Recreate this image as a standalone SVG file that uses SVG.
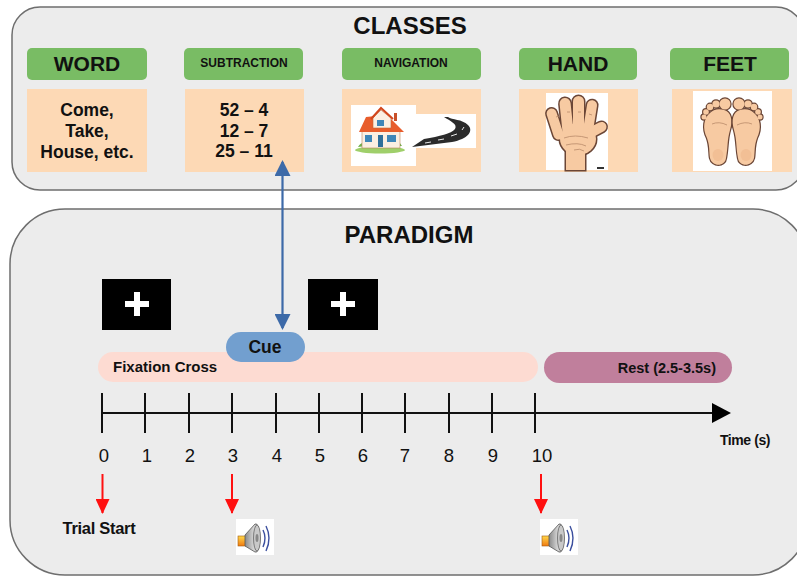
<svg xmlns="http://www.w3.org/2000/svg" width="797" height="577" viewBox="0 0 797 577">
  <style>
    text { font-family: "Liberation Sans", Arial, sans-serif; fill: #111; }
    .title { font-size: 24px; font-weight: bold; text-anchor: middle; }
    .hdr { fill: #79bc64; }
    .hdrt { font-size: 21px; font-weight: bold; text-anchor: middle; }
    .hdrs { font-size: 12px; font-weight: bold; text-anchor: middle; }
    .card { fill: #fdd9b5; }
    .cardt { font-size: 17.5px; font-weight: bold; text-anchor: middle; }
    .panel { fill: #ececec; stroke: #6e6e6e; stroke-width: 1.5; }
    .tick { stroke: #111; stroke-width: 2; }
    .num { font-size: 18.5px; text-anchor: middle; }
    .bar { font-size: 15px; font-weight: bold; }
    .skin { fill: #f7caa2; }
    .skinline { fill: #6b4636; stroke: #6b4636; stroke-width: 3; }
    .crease { fill: none; stroke: #b98a6a; stroke-width: 0.8; }
    .red { stroke: #ff1010; stroke-width: 2; }
  </style>
  <defs>
    <marker id="blueHead" viewBox="0 0 16 16" refX="14" refY="8" markerWidth="16" markerHeight="16" markerUnits="userSpaceOnUse" orient="auto-start-reverse">
      <path d="M0,0 L16,8 L0,16 Z" fill="#3d6aa8"/>
    </marker>
    <marker id="redHead" viewBox="0 0 15 14" refX="14" refY="7" markerWidth="15" markerHeight="14" markerUnits="userSpaceOnUse" orient="auto">
      <path d="M0,0 L15,7 L0,14 Z" fill="#ff1010"/>
    </marker>
    <linearGradient id="cone" x1="0" y1="0" x2="1" y2="0">
      <stop offset="0" stop-color="#8a8a8a"/>
      <stop offset="0.6" stop-color="#d8d8d8"/>
      <stop offset="1" stop-color="#9a9a9a"/>
    </linearGradient>
    <linearGradient id="box" x1="0" y1="0" x2="0" y2="1">
      <stop offset="0" stop-color="#ffd84a"/>
      <stop offset="1" stop-color="#f07a10"/>
    </linearGradient>
    <symbol id="speaker" viewBox="0 0 38 36" width="38" height="36">
      <rect x="0" y="0" width="38" height="36" fill="#fff"/>
      <rect x="2" y="17" width="8" height="10" fill="url(#box)" stroke="#a05a10" stroke-width="0.6"/>
      <path d="M9,16 L19,5 Q23,3 24,20 Q23,35 19,33 L9,27 Z" fill="url(#cone)" stroke="#555" stroke-width="0.8"/>
      <ellipse cx="21" cy="19" rx="3.5" ry="13" fill="#c9c9c9" stroke="#666" stroke-width="0.8"/>
      <ellipse cx="21" cy="19" rx="1.5" ry="4" fill="#888"/>
      <path d="M27,11 Q31,19 27,28" fill="none" stroke="#3b4f9e" stroke-width="1.4"/>
      <path d="M30,7 Q36,19 30,32" fill="none" stroke="#3b4f9e" stroke-width="1.4"/>
    </symbol>
  </defs>

  <rect width="797" height="577" fill="#ffffff"/>

  <!-- Classes panel -->
  <g id="classes-panel">
    <rect class="panel" x="12" y="7" width="792" height="183" rx="28"/>
    <text class="title" x="410" y="34">CLASSES</text>
  </g>

  <g id="class-word">
    <rect class="hdr" x="27" y="48" width="120" height="32" rx="5"/>
    <text class="hdrt" x="87" y="71">WORD</text>
    <rect class="card" x="27" y="89" width="120" height="83"/>
    <text class="cardt" x="87" y="116">Come,</text>
    <text class="cardt" x="87" y="137">Take,</text>
    <text class="cardt" x="87" y="158">House, etc.</text>
  </g>

  <g id="class-subtraction">
    <rect class="hdr" x="184" y="48" width="119" height="32" rx="5"/>
    <text class="hdrs" x="244" y="67">SUBTRACTION</text>
    <rect class="card" x="185" y="89" width="119" height="83"/>
    <text class="cardt" x="244" y="116">52 – 4</text>
    <text class="cardt" x="244" y="137">12 – 7</text>
    <text class="cardt" x="244" y="157">25 – 11</text>
  </g>

  <g id="class-navigation">
    <rect class="hdr" x="342" y="48" width="139" height="32" rx="5"/>
    <text class="hdrs" x="411" y="67">NAVIGATION</text>
    <rect class="card" x="342" y="89" width="139" height="83"/>
    <!-- house -->
    <rect x="351" y="105" width="65" height="61" fill="#fff"/>
    <rect x="416" y="114" width="60" height="34" fill="#fff"/>
    <ellipse cx="380" cy="150" rx="25" ry="3.5" fill="#9fcf6a"/>
    <path d="M358,147 q4,-7 9,-2 q3,-5 8,0 M385,146 q5,-7 10,-1 q4,-5 7,1" fill="#6db14a"/>
    <rect x="362" y="130" width="38" height="18" fill="#fbefe2" stroke="#b9835a" stroke-width="0.6"/>
    <path d="M366,117 L376,116 L390,118 L404,132 L359,132 Z" fill="#e85d2c"/>
    <path d="M373,118 L381,110 L391,118 L391,128 L373,128 Z" fill="#fbefe2" stroke="#c0683a" stroke-width="0.6"/>
    <path d="M371,119 L381,108 L393,119" fill="none" stroke="#d2461c" stroke-width="2"/>
    <rect x="394" y="113" width="3" height="8" fill="#c8502a"/>
    <rect x="377" y="120" width="7" height="6" fill="#3e86b8"/>
    <rect x="365" y="135" width="7" height="7" fill="#3e86b8"/>
    <rect x="378" y="135" width="5" height="12" fill="#2f6f9a"/>
    <rect x="387" y="135" width="9" height="7" fill="#3e86b8"/>
    <!-- road -->
    <path d="M412,147 L452,142 C468,139 474,131 468,125 C462,119 452,120 448,117 L444,117 C450,121 458,124 455,129 C451,134 440,136 424,139 Z" fill="#2b2b2b"/>
    <path d="M425,143 L431,142 M438,140 L444,139 M451,136 L457,134 M462,130 L464,127" stroke="#ffffff" stroke-width="0.9"/>
  </g>

  <g id="class-hand">
    <rect class="hdr" x="519" y="48" width="118" height="32" rx="5"/>
    <text class="hdrt" x="578" y="71">HAND</text>
    <rect class="card" x="519" y="89" width="119" height="83"/>
    <rect x="546" y="93" width="62" height="77" fill="#fff"/>
    <!-- outline pass, then fill pass -->
    <g class="skinline">
      <rect x="566" y="148" width="19" height="22"/>
      <ellipse cx="578" cy="139" rx="18" ry="16"/>
      <rect x="550" y="108" width="10" height="32" rx="5" transform="rotate(-18 555 124)"/>
      <rect x="561" y="98" width="11" height="38" rx="5.5" transform="rotate(-6 566 117)"/>
      <rect x="573" y="96" width="11" height="40" rx="5.5"/>
      <rect x="585" y="100" width="10" height="36" rx="5" transform="rotate(9 590 118)"/>
      <rect x="586" y="128" width="22" height="10" rx="5" transform="rotate(-28 590 133)"/>
    </g>
    <g class="skin">
      <rect x="566" y="148" width="19" height="22"/>
      <ellipse cx="578" cy="139" rx="18" ry="16"/>
      <rect x="550" y="108" width="10" height="32" rx="5" transform="rotate(-18 555 124)"/>
      <rect x="561" y="98" width="11" height="38" rx="5.5" transform="rotate(-6 566 117)"/>
      <rect x="573" y="96" width="11" height="40" rx="5.5"/>
      <rect x="585" y="100" width="10" height="36" rx="5" transform="rotate(9 590 118)"/>
      <rect x="586" y="128" width="22" height="10" rx="5" transform="rotate(-28 590 133)"/>
    </g>
    <path class="crease" d="M564,138 Q575,134 588,138 M566,145 Q578,142 586,146 M574,150 Q580,148 584,151 M556,117 l3,-1 M567,112 l3,0 M578,112 l3,0 M589,114 l3,1"/>
    <rect x="597" y="167" width="7" height="2" fill="#333"/>
  </g>

  <g id="class-feet">
    <rect class="hdr" x="670" y="48" width="119" height="32" rx="5"/>
    <text class="hdrt" x="730" y="71">FEET</text>
    <rect class="card" x="672" y="89" width="120" height="83"/>
    <rect x="693" y="91" width="79" height="80" fill="#fff"/>
    <g id="foot-left">
      <g class="skinline" style="stroke-width:2.4">
        <path d="M710,113 C704,118 702,128 707,138 C710,146 709,152 710,158 C712,167 725,167 726,158 C728,148 727,140 730,130 C733,120 731,112 724,110 C718,108 713,110 710,113 Z"/>
        <circle cx="725" cy="104" r="5.5"/>
        <circle cx="716" cy="104" r="3.6"/>
        <circle cx="710" cy="107" r="3.2"/>
        <circle cx="706" cy="112" r="2.8"/>
        <circle cx="704" cy="117" r="2.5"/>
      </g>
      <g class="skin">
        <path d="M710,113 C704,118 702,128 707,138 C710,146 709,152 710,158 C712,167 725,167 726,158 C728,148 727,140 730,130 C733,120 731,112 724,110 C718,108 713,110 710,113 Z"/>
        <circle cx="725" cy="104" r="5.5"/>
        <circle cx="716" cy="104" r="3.6"/>
        <circle cx="710" cy="107" r="3.2"/>
        <circle cx="706" cy="112" r="2.8"/>
        <circle cx="704" cy="117" r="2.5"/>
      </g>
      <ellipse cx="718" cy="155" rx="5.5" ry="6" fill="#eeb88c" opacity="0.6"/>
      <path class="crease" d="M712,124 Q719,121 727,125"/>
    </g>
    <use href="#foot-left" transform="translate(1464,0) scale(-1,1)"/>
  </g>

  <!-- Paradigm panel -->
  <g id="paradigm-panel">
    <rect class="panel" x="10" y="209" width="798" height="366" rx="55"/>
    <text class="title" x="409" y="243">PARADIGM</text>
  </g>

  <g id="fixation-1">
    <rect x="102" y="279" width="69" height="51" fill="#000"/>
    <rect x="125" y="301" width="24" height="6" fill="#fff"/>
    <rect x="134" y="292" width="6" height="24" fill="#fff"/>
  </g>

  <g id="fixation-2">
    <rect x="308" y="279" width="70" height="51" fill="#000"/>
    <rect x="331" y="301" width="24" height="6" fill="#fff"/>
    <rect x="340" y="292" width="6" height="24" fill="#fff"/>
  </g>

  <g id="fixation-bar">
    <rect x="98" y="352" width="440" height="30" rx="15" fill="#fddbd2"/>
    <text class="bar" x="113" y="372">Fixation Cross</text>
  </g>

  <g id="rest-bar">
    <rect x="544" y="352" width="188" height="31" rx="15.5" fill="#c07f9c"/>
    <text class="bar" x="716" y="373" text-anchor="end" style="font-size:14.5px">Rest (2.5-3.5s)</text>
  </g>

  <g id="cue">
    <rect x="226" y="332" width="79" height="30" rx="15" fill="#729fcf"/>
    <text x="265" y="353" text-anchor="middle" style="font-size:17.5px;font-weight:bold">Cue</text>
  </g>

  <g id="timeline">
    <line x1="102" y1="413" x2="714" y2="413" stroke="#111" stroke-width="2"/>
    <path d="M712,403 L731,413 L712,423 Z" fill="#000"/>
    <g class="tick">
      <line x1="102" y1="393" x2="102" y2="433"/>
      <line x1="145" y1="393" x2="145" y2="433"/>
      <line x1="189" y1="393" x2="189" y2="433"/>
      <line x1="232" y1="393" x2="232" y2="433"/>
      <line x1="276" y1="393" x2="276" y2="433"/>
      <line x1="319" y1="393" x2="319" y2="433"/>
      <line x1="362" y1="393" x2="362" y2="433"/>
      <line x1="405" y1="393" x2="405" y2="433"/>
      <line x1="449" y1="393" x2="449" y2="433"/>
      <line x1="492" y1="393" x2="492" y2="433"/>
      <line x1="535" y1="393" x2="535" y2="433"/>
    </g>
    <text class="num" x="104" y="462">0</text>
    <text class="num" x="147" y="462">1</text>
    <text class="num" x="190" y="462">2</text>
    <text class="num" x="233" y="462">3</text>
    <text class="num" x="277" y="462">4</text>
    <text class="num" x="320" y="462">5</text>
    <text class="num" x="363" y="462">6</text>
    <text class="num" x="405" y="462">7</text>
    <text class="num" x="449" y="462">8</text>
    <text class="num" x="493" y="462">9</text>
    <text class="num" x="542" y="462">10</text>
    <text x="745" y="445" text-anchor="middle" style="font-size:14px;font-weight:bold;letter-spacing:-0.4px">Time (s)</text>
  </g>

  <g id="trial-start">
    <text x="99" y="534" text-anchor="middle" style="font-size:16.5px;font-weight:bold;letter-spacing:-0.3px">Trial Start</text>
  </g>

  <g id="sound-1">
    <use href="#speaker" x="236" y="519"/>
  </g>

  <g id="sound-2">
    <use href="#speaker" x="540" y="519"/>
  </g>

  <!-- Connectors -->
  <g id="connectors">
    <line x1="282.5" y1="162" x2="282.5" y2="328" stroke="#3d6aa8" stroke-width="2.2" marker-start="url(#blueHead)" marker-end="url(#blueHead)"/>
    <line class="red" x1="102.5" y1="474" x2="102.5" y2="513" marker-end="url(#redHead)"/>
    <line class="red" x1="232" y1="474" x2="232" y2="513" marker-end="url(#redHead)"/>
    <line class="red" x1="541" y1="474" x2="541" y2="513" marker-end="url(#redHead)"/>
  </g>
</svg>
